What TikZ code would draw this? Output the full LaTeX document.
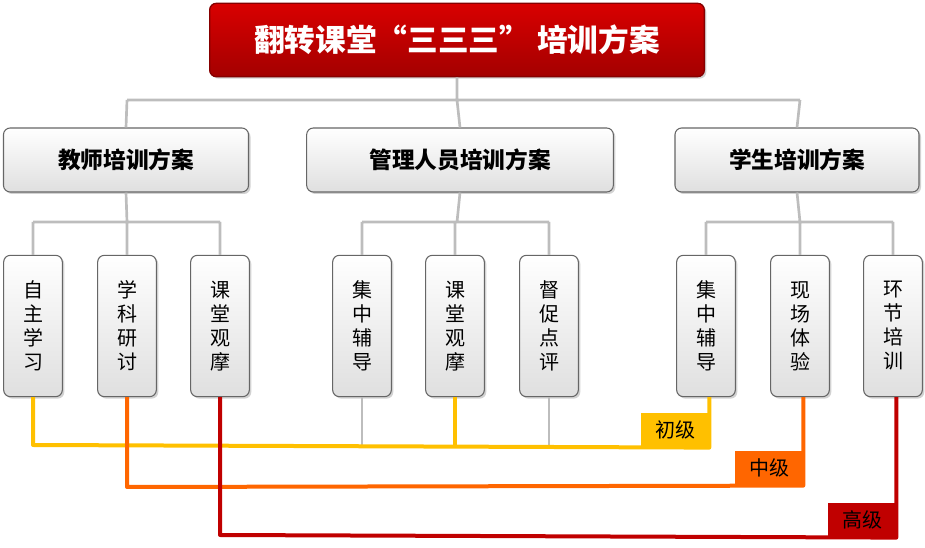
\documentclass[tikz,border=0pt]{standalone}
\usepackage{fontspec}
\setmainfont{Noto Sans CJK SC}
\usetikzlibrary{shadows}
\definecolor{cy}{HTML}{FFC000}
\definecolor{co}{HTML}{FF6600}
\definecolor{cr}{HTML}{C00000}
\definecolor{gl}{HTML}{BDBDBD}
\begin{document}
\begin{tikzpicture}[x=0.75pt,y=-0.75pt,
  box/.style={draw=gray!80!black,line width=0.8pt,rounded corners=5pt,top color=white,bottom color=gray!25,
    drop shadow={shadow xshift=1.5pt,shadow yshift=-1.5pt,fill=gray!70}},
  mid/.style={box,minimum width=183.75pt,minimum height=48pt,font=\fontsize{17}{20}\selectfont\bfseries},
  leaf/.style={box,minimum width=44pt,minimum height=106pt,font=\fontsize{15}{18}\selectfont,align=center},
  gline/.style={draw=gl,line width=2pt},
  lv/.style={inner sep=0pt,minimum width=51pt,minimum height=26pt,font=\fontsize{15}{18}\selectfont}]
\useasboundingbox (0,0) rectangle (925,548);
\node[draw=cr!70!black,line width=1pt,rounded corners=5pt,top color=red!85!black,bottom color=cr!85!black,
  minimum width=371pt,minimum height=55pt,text=white,font=\fontsize{23}{26}\selectfont\bfseries,
  drop shadow={shadow xshift=1.5pt,shadow yshift=-1.5pt,fill=gray!70}] (t) at (457,40) {翻转课堂“三三三” 培训方案};
\node[mid] (a) at (126,160) {教师培训方案};
\node[mid,minimum width=230pt] (b) at (460,160) {管理人员培训方案};
\node[mid,minimum width=183pt] (c) at (797,160) {学生培训方案};
\foreach \n/\x/\t in {l1/33/自\\主\\学\\习, l2/127/学\\科\\研\\讨, l3/220/课\\堂\\观\\摩,
  l4/362/集\\中\\辅\\导, l5/455/课\\堂\\观\\摩, l6/549/督\\促\\点\\评,
  l7/706/集\\中\\辅\\导, l8/800/现\\场\\体\\验, l9/893/环\\节\\培\\训}
  \node[leaf] (\n) at (\x,326) {\t};
\coordinate (j0) at (457,100);
\path[gline] (t.south) -- (j0) (127,100) -- (800,100)
  (127,100) -- (a.north) (457,100) -- (b.north) (800,100) -- (c.north);
\path[gline] (a.south) -- (127,222) (33,222) -- (220,222) (33,222) -- (l1.north) (127,222) -- (l2.north) (220,222) -- (l3.north);
\path[gline] (b.south) -- (457,222) (362,222) -- (549,222) (362,222) -- (l4.north) (455,222) -- (l5.north) (549,222) -- (l6.north);
\path[gline] (c.south) -- (800,222) (706,222) -- (893,222) (706,222) -- (l7.north) (800,222) -- (l8.north) (893,222) -- (l9.north);
\path[gline] (l4.south) -- (362,445) (l6.south) -- (549,445);
\node[lv,fill=cy] (ly) at (675,430) {初级};
\node[lv,fill=co] (lo) at (769,468) {中级};
\node[lv,fill=cr] (lr) at (862,520) {高级};
\draw[cy,line width=3pt,line join=round] (l1.south) -- (33,445) -- (ly.south east) -- (l7.south -| ly.south east);
\draw[cy,line width=3pt] (l5.south) -- (455,445);
\draw[co,line width=3pt,line join=round] (l2.south) -- (127,487) -- (lo.south east) -- (l8.south -| lo.south east);
\draw[cr,line width=3pt,line join=round] (l3.south) -- (220,535) -- (lr.south east) -- (l9.south -| lr.south east);
\end{tikzpicture}
\end{document}
